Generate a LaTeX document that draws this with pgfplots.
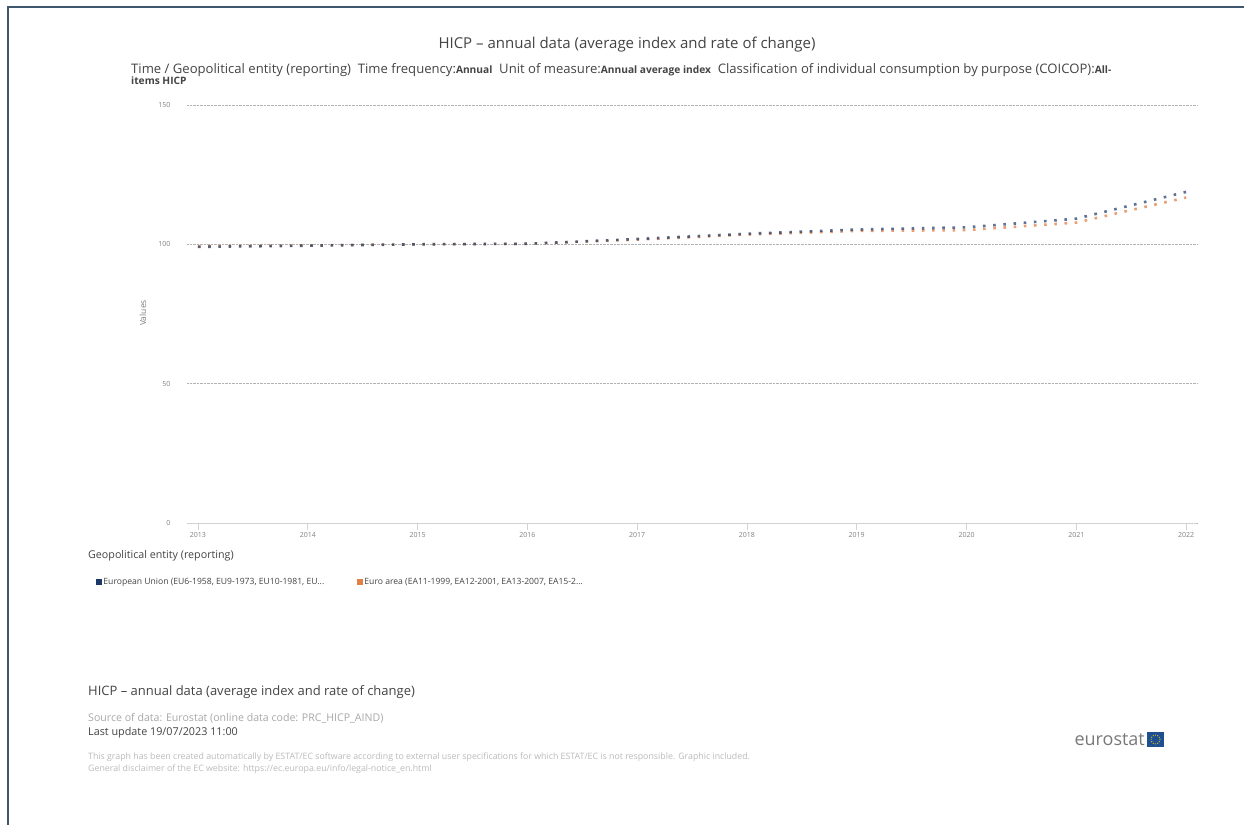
\documentclass[border=0pt]{standalone}
\usepackage{pgfplots}
\pgfplotsset{compat=1.18}
\usetikzlibrary{calc}
\usepackage{fontspec}
\setmainfont{Open Sans}
\definecolor{eunavy}{HTML}{1B3866}
\definecolor{eaorange}{HTML}{E27F45}
\definecolor{frame}{HTML}{3E566E}
\definecolor{txt}{HTML}{444444}
\definecolor{lgt}{HTML}{A8A8A8}
\definecolor{vlgt}{HTML}{BBBBBB}
\definecolor{eublue}{HTML}{1D4F91}
\newcommand{\fs}[1]{\fontsize{#1bp}{#1bp}\selectfont}
\newcommand{\val}[1]{{\fontsize{10.2bp}{11bp}\selectfont\bfseries #1}}
\begin{document}
\begin{tikzpicture}
\path[use as bounding box] (0bp,0bp) rectangle (1244bp,825bp);
\fill[white] (0bp,0bp) rectangle (1244bp,825bp);
\draw[frame, line width=1.2bp] (8bp,0bp) -- (8bp,818bp) -- (1244bp,818bp);
% title
\node[txt, font=\fs{15}] at (627bp,780bp) {HICP – annual data (average index and rate of change)};
\node[txt, font=\fontsize{13.1bp}{11.5bp}\selectfont, anchor=north west, inner sep=0pt, align=left] at (131bp,762bp)
 {Time / Geopolitical entity (reporting)\ \ Time frequency:\val{Annual}\ \ Unit of measure:\val{Annual average index}\ \ Classification of individual consumption by purpose (COICOP):\val{All-}\\\val{items HICP}};
\begin{axis}[
  at={(187bp,302bp)}, anchor=south west,
  scale only axis, width=1010bp, height=418bp,
  xmin=2012.9, xmax=2022.1, ymin=0, ymax=150,
  axis x line*=bottom, axis y line*=left,
  x axis line style={draw=gray!35, -},
  y axis line style={draw=none},
  xtick={2013,2014,2015,2016,2017,2018,2019,2020,2021,2022},
  ytick={0,50,100,150},
  tick align=outside,
  major tick length=7bp,
  x tick style={draw=gray!35, line width=0.6bp},
  y tick style={draw=none},
  ymajorgrids,
  grid style={densely dotted, gray!60, line width=0.6bp},
  tick label style={font=\fs{7}, text=gray},
  xticklabel style={yshift=1bp},
  yticklabel style={xshift=-6bp},
  /pgf/number format/assume math mode=true,
  /pgf/number format/1000 sep={},
  clip=false,
  legend columns=2,
  legend style={draw=none, fill=none, at={(-0.093,-0.141)}, anchor=west, font=\fs{8.6}, text=txt,
    /tikz/every even column/.append style={column sep=31bp}},
]
\addplot[eaorange, opacity=0.75, line width=2.6bp, line cap=butt, dash pattern=on 2.6bp off 7.6bp,
  forget plot] coordinates {
(2013,99.3) (2014,99.6) (2015,100.0) (2016,100.2) (2017,101.7) (2018,103.5) (2019,104.8) (2020,105.1) (2021,107.8) (2022,116.8)};
\addplot[eunavy, opacity=0.7, line width=2.6bp, line cap=butt, dash pattern=on 2.6bp off 7.6bp,
  forget plot] coordinates {
(2013,99.1) (2014,99.5) (2015,100.0) (2016,100.2) (2017,101.9) (2018,103.8) (2019,105.3) (2020,106.1) (2021,109.2) (2022,118.8)};
\addlegendimage{legend image code/.code={\fill[eunavy] (0bp,-2.4bp) rectangle (4.8bp,2.4bp);}}
\addlegendentry{European Union (EU6-1958, EU9-1973, EU10-1981, EU...}
\addlegendimage{legend image code/.code={\fill[eaorange] (0bp,-2.4bp) rectangle (4.8bp,2.4bp);}}
\addlegendentry{Euro area (EA11-1999, EA12-2001, EA13-2007, EA15-2...}
\end{axis}
\node[gray, font=\fs{8.5}, rotate=90] at (143bp,512bp) {Values};
\node[txt, font=\fs{10.7}, anchor=west, inner sep=0pt] at (88bp,269bp) {Geopolitical entity (reporting)};
% footer
\node[txt, font=\fs{13}, anchor=west, inner sep=0pt] at (88bp,133bp) {HICP – annual data (average index and rate of change)};
\node[lgt, font=\fs{10.6}, anchor=west, inner sep=0pt] at (88bp,107bp) {Source of data: Eurostat (online data code: PRC\_HICP\_AIND)};
\node[txt, font=\fs{10.8}, anchor=west, inner sep=0pt] at (88bp,92bp) {Last update 19/07/2023 11:00};
\node[vlgt, font=\fs{8.8}, anchor=west, inner sep=0pt] at (88bp,68bp) {This graph has been created automatically by ESTAT/EC software according to external user specifications for which ESTAT/EC is not responsible. Graphic included.};
\node[vlgt, font=\fs{8.8}, anchor=west, inner sep=0pt] at (88bp,56bp) {General disclaimer of the EC website: https://ec.europa.eu/info/legal-notice\_en.html};
% logo
\node[gray!95!black, font=\fs{18}, anchor=east, inner sep=0pt] at (1145bp,85bp) {eurostat};
\fill[eublue] (1147bp,78bp) rectangle (1164bp,93bp);
\foreach \a in {0,30,...,330} {\fill[yellow!80!orange] ($(1155.5bp,85.5bp)+(\a:4.4bp)$) circle (0.6bp);}
\end{tikzpicture}
\end{document}
